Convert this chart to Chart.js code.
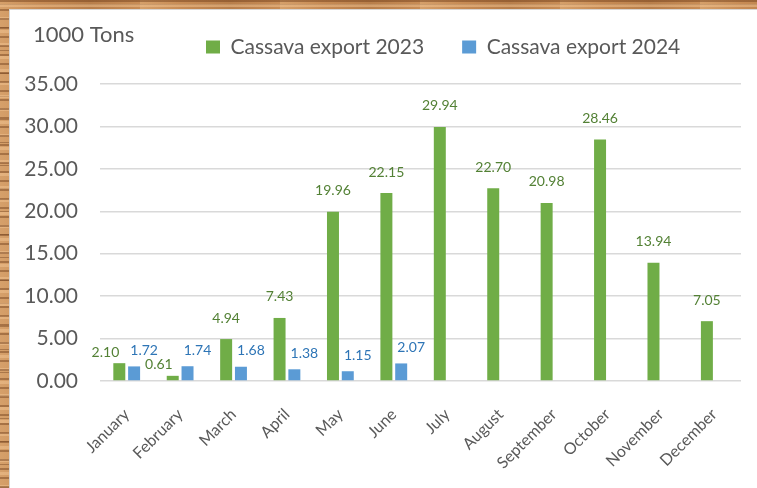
<!DOCTYPE html>
<html>
<head>
<meta charset="utf-8">
<title>Cassava export</title>
<script src="https://cdn.jsdelivr.net/npm/chart.js@4.4.1/dist/chart.umd.min.js"></script>
<style>
  html, body { margin: 0; padding: 0; }
  body {
    width: 757px;
    height: 488px;
    overflow: hidden;
    position: relative;
    background-color: #c88c55;
    background-image:
      repeating-linear-gradient(0deg, rgba(110, 60, 25, 0.45) 0px, rgba(110, 60, 25, 0.45) 2px, transparent 2px, transparent 9px),
      repeating-linear-gradient(0deg, rgba(245, 200, 150, 0.45) 0px, rgba(245, 200, 150, 0.45) 3px, transparent 3px, transparent 13px),
      repeating-linear-gradient(0deg, rgba(90, 45, 15, 0.35) 0px, rgba(90, 45, 15, 0.35) 1px, transparent 1px, transparent 23px),
      repeating-linear-gradient(90deg, rgba(255, 220, 170, 0.25) 0px, transparent 40px, rgba(120, 70, 30, 0.2) 90px, transparent 140px);
  }
  .panel {
    position: absolute;
    left: 9px;
    top: 9px;
    width: 760px;
    height: 490px;
    background: #fff;
    border: 1px solid #d6d6d6;
  }
  #chart {
    position: absolute;
    left: 10px;
    top: 10px;
  }
</style>
</head>
<body>
<div class="panel"></div>
<canvas id="chart" width="747" height="478"></canvas>
<script>
const months = ["January", "February", "March", "April", "May", "June",
  "July", "August", "September", "October", "November", "December"];
const export2023 = [2.10, 0.61, 4.94, 7.43, 19.96, 22.15, 29.94, 22.70, 20.98, 28.46, 13.94, 7.05];
const export2024 = [1.72, 1.74, 1.68, 1.38, 1.15, 2.07];
const yTicks = [0, 5, 10, 15, 20, 25, 30, 35];
const unitLabel = "1000 Tons";

const textGray = "#595959";
const green = "#70AD47";
const blue = "#5B9BD5";

// value labels above the bars; a 2023 label that would run into the
// 2024 label of the same month is pushed to the left of it
const valueLabels = {
  id: "valueLabels",
  afterDatasetsDraw(chart) {
    const ctx = chart.ctx;
    const greenBars = chart.getDatasetMeta(0).data;
    const blueBars = chart.getDatasetMeta(1).data;
    ctx.save();
    ctx.font = "14px Lato";
    ctx.textAlign = "center";
    ctx.textBaseline = "middle";

    const blueSpots = blueBars.map((bar, i) => {
      const text = export2024[i].toFixed(2);
      return { text: text, x: bar.x + 10, y: bar.y - 16, w: ctx.measureText(text).width };
    });

    greenBars.forEach((bar, i) => {
      const text = export2023[i].toFixed(2);
      const w = ctx.measureText(text).width;
      let x = bar.x;
      let y = bar.y - 21;
      const b = blueSpots[i];
      if (b && Math.abs(x - b.x) < (w + b.w) / 2 && Math.abs(y - b.y) < 14) {
        x = b.x - b.w / 2 - 11 - w / 2;
        y = bar.y - 11;
      }
      ctx.fillStyle = "#538135";
      ctx.fillText(text, x, y);
    });

    ctx.fillStyle = "#2E75B6";
    blueSpots.forEach((b) => ctx.fillText(b.text, b.x, b.y));
    ctx.restore();
  },
};

// unit caption in the top left corner
const unitCaption = {
  id: "unitCaption",
  afterDraw(chart) {
    const ctx = chart.ctx;
    ctx.save();
    ctx.font = "22px Lato";
    ctx.fillStyle = textGray;
    ctx.textAlign = "left";
    ctx.textBaseline = "middle";
    ctx.fillText(unitLabel, 23, 25);
    ctx.restore();
  },
};

// legend sits right of the caption, not centred over the plot
const legendSpot = {
  id: "legendSpot",
  afterLayout(chart) {
    const lg = chart.legend;
    const pad = lg.options.labels.padding;
    const rowStart = (lg.left + pad + lg.right - lg.lineWidths[0]) / 2;
    const dx = 196 - rowStart;
    const dy = 37 - (lg.top + pad + 10.5);
    lg.left += dx;
    lg.right += dx;
    lg.top += dy;
    lg.bottom += dy;
  },
};

new Chart(document.getElementById("chart"), {
  type: "bar",
  data: {
    labels: months,
    datasets: [
      {
        label: "Cassava export 2023",
        data: export2023,
        backgroundColor: green,
        barPercentage: 0.81,
        categoryPercentage: 0.554,
      },
      {
        label: "Cassava export 2024",
        data: export2024,
        backgroundColor: blue,
        barPercentage: 0.81,
        categoryPercentage: 0.554,
      },
    ],
  },
  options: {
    responsive: false,
    animation: false,
    layout: { padding: { left: 0, right: 16, top: 5, bottom: 0 } },
    plugins: {
      tooltip: { enabled: false },
      legend: {
        position: "top",
        labels: {
          color: textGray,
          font: { family: "Lato", size: 21 },
          boxWidth: 14,
          boxHeight: 13,
          padding: 38,
        },
      },
    },
    scales: {
      x: {
        grid: { display: false },
        border: { display: false },
        ticks: {
          color: textGray,
          font: { family: "Lato", size: 16 },
          minRotation: 45,
          maxRotation: 45,
          padding: 16,
        },
        afterFit: (scale) => {
          scale.height = 107;
        },
      },
      y: {
        min: 0,
        max: 35,
        border: { display: false },
        grid: { color: "#d9d9d9", lineWidth: 1.5, drawTicks: false },
        ticks: {
          color: textGray,
          font: { family: "Lato", size: 21 },
          padding: 22,
          callback: (v) => Number(v).toFixed(2),
        },
        afterBuildTicks: (scale) => {
          scale.ticks = yTicks.map((v) => ({ value: v }));
        },
        afterFit: (scale) => {
          scale.width = 90;
        },
      },
    },
  },
  plugins: [valueLabels, unitCaption, legendSpot],
});
</script>
</body>
</html>
